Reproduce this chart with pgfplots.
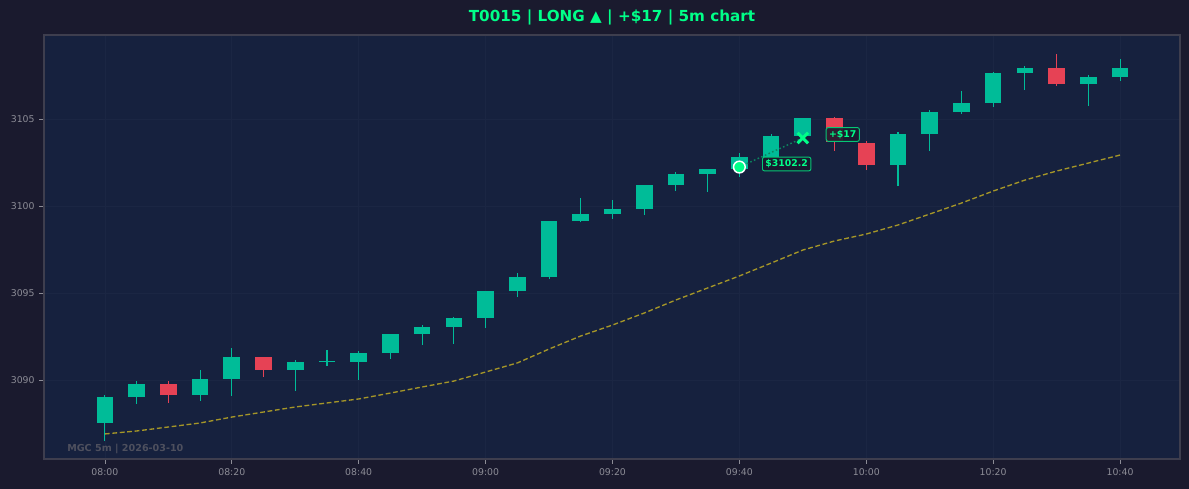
\documentclass[border=0pt]{standalone}
\usepackage{fontspec}
\setmainfont{DejaVu Sans}
\usepackage{pgfplots}
\pgfplotsset{compat=1.18}
\usepackage{pgfplotstable}

\definecolor{figbg}{RGB}{26,26,46}
\definecolor{axbg}{RGB}{22,33,62}
\definecolor{spine}{RGB}{62,62,78}
\definecolor{tickc}{RGB}{140,140,150}
\definecolor{gridc}{RGB}{27,38,67}
\definecolor{upc}{RGB}{0,188,152}
\definecolor{dnc}{RGB}{230,66,85}
\definecolor{entc}{RGB}{0,255,136}
\definecolor{mac}{RGB}{165,150,40}
\definecolor{wmc}{RGB}{78,80,94}

% i open high low close
\pgfplotstableread{
i o h l c
0 3087.53 3089.14 3086.51 3089.02
1 3089.02 3089.94 3088.64 3089.77
3 3089.14 3090.57 3088.81 3090.06
4 3090.06 3091.84 3089.10 3091.32
6 3090.59 3091.15 3089.39 3091.03
7 3091.03 3091.72 3090.82 3091.09
8 3091.05 3091.67 3090.00 3091.55
9 3091.55 3092.64 3091.21 3092.64
10 3092.64 3093.16 3092.01 3093.05
11 3093.05 3093.62 3092.07 3093.56
12 3093.56 3095.11 3092.99 3095.11
13 3095.11 3096.15 3094.77 3095.92
14 3095.92 3099.14 3095.80 3099.14
15 3099.14 3100.46 3099.08 3099.54
16 3099.54 3100.34 3099.25 3099.83
17 3099.83 3101.21 3099.48 3101.21
18 3101.21 3101.95 3100.88 3101.84
19 3101.84 3102.13 3100.82 3102.13
20 3102.13 3103.05 3101.68 3102.82
21 3102.82 3104.14 3102.80 3104.02
22 3104.02 3105.06 3103.90 3105.06
25 3102.36 3104.25 3101.15 3104.14
26 3104.14 3105.52 3103.16 3105.40
27 3105.40 3106.61 3105.29 3105.92
28 3105.92 3107.70 3105.69 3107.64
29 3107.64 3108.05 3106.67 3107.93
31 3107.01 3107.53 3105.75 3107.41
32 3107.41 3108.45 3107.18 3107.93
}\upcandles

\pgfplotstableread{
i o h l c
2 3089.77 3089.94 3088.70 3089.14
5 3091.32 3091.32 3090.19 3090.59
23 3105.06 3105.11 3103.18 3103.70
24 3103.62 3103.74 3102.07 3102.36
30 3107.93 3108.74 3106.90 3107.01
}\downcandles

\pgfplotstableread{
i v
0 3086.90
1 3087.07
2 3087.30
3 3087.53
4 3087.87
5 3088.16
6 3088.45
7 3088.68
8 3088.91
9 3089.25
10 3089.60
11 3089.94
12 3090.46
13 3090.98
14 3091.78
15 3092.53
16 3093.16
17 3093.85
18 3094.60
19 3095.29
20 3095.98
21 3096.72
22 3097.47
23 3097.99
24 3098.39
25 3098.91
26 3099.54
27 3100.17
28 3100.86
29 3101.49
30 3102.01
31 3102.47
32 3102.93
}\matable

\begin{document}
\begin{tikzpicture}
\fill[figbg] (0,0) rectangle (891.75pt,366.75pt);
\useasboundingbox (0,0) rectangle (891.75pt,366.75pt);
\begin{axis}[
  at={(33pt,22.5pt)}, anchor=south west,
  scale only axis, width=852pt, height=318pt,
  xmin=-1.92, xmax=33.89, ymin=3085.46, ymax=3109.83,
  axis background/.style={fill=axbg},
  axis line style={draw=spine, line width=0.8pt},
  xtick={0,4,...,32},
  xticklabels={08:00,08:20,08:40,09:00,09:20,09:40,10:00,10:20,10:40},
  ytick={3090,3095,3100,3105},
  tick align=outside, tick pos=left, major tick length=3.5pt,
  tick style={draw=tickc, line width=0.6pt},
  ticklabel style={font=\fontsize{7}{8}\selectfont, text=tickc},
  /pgf/number format/assume math mode=true,
  /pgf/number format/set thousands separator={},
  grid=major, grid style={draw=gridc, line width=0.5pt},
]
% moving average
\addplot[mac, line width=1pt, dash pattern=on 3.6pt off 2pt] table[x=i, y=v] {\matable};
% wicks
\addplot[draw=none, forget plot, error bars/.cd, y dir=plus, y explicit, error mark=none,
  error bar style={draw=upc, line width=0.8pt}]
  table[x=i, y=l, y error plus expr=\thisrow{h}-\thisrow{l}] {\upcandles};
\addplot[draw=none, forget plot, error bars/.cd, y dir=plus, y explicit, error mark=none,
  error bar style={draw=dnc, line width=0.8pt}]
  table[x=i, y=l, y error plus expr=\thisrow{h}-\thisrow{l}] {\downcandles};
% bodies
\addplot[draw=none, forget plot, error bars/.cd, y dir=plus, y explicit, error mark=none,
  error bar style={draw=upc, line width=12.5pt}]
  table[x=i, y=o, y error plus expr=\thisrow{c}-\thisrow{o}] {\upcandles};
\addplot[draw=none, forget plot, error bars/.cd, y dir=plus, y explicit, error mark=none,
  error bar style={draw=dnc, line width=12.5pt}]
  table[x=i, y=c, y error plus expr=\thisrow{o}-\thisrow{c}] {\downcandles};
% trade path
\addplot[draw=entc!45!axbg, line width=1.1pt, dash pattern=on 1.2pt off 1.8pt] coordinates {(20,3102.24) (22,3103.91)};
\addplot[only marks, mark=x, mark size=5.6pt, mark options={draw=entc, line width=2.3pt}] coordinates {(22,3103.91)};
\addplot[only marks, mark=*, mark size=4.4pt, mark options={fill=entc, draw=white, line width=1.1pt}] coordinates {(20,3102.24)};
\end{axis}
% annotation labels
\begin{scope}[x=1pt,y=1pt]
\node[anchor=west, draw=entc!75!axbg, fill=figbg, fill opacity=0.9, text opacity=1, rounded corners=1.5pt,
  line width=0.7pt, inner xsep=2.2pt, inner ysep=2pt, text=entc, font=\fontsize{7}{8}\selectfont\bfseries]
  at (571.5pt,243.75pt) {\$3102.2};
\node[anchor=west, draw=entc!75!axbg, fill=figbg, fill opacity=0.9, text opacity=1, rounded corners=1.5pt,
  line width=0.7pt, inner xsep=2.2pt, inner ysep=2pt, text=entc, font=\fontsize{7}{8}\selectfont\bfseries]
  at (619.3pt,265.9pt) {+\$17};
\node[anchor=west, inner sep=0pt, text=wmc, font=\fontsize{7.2}{8}\selectfont\bfseries]
  at (50.25pt,30pt) {MGC 5m | 2026-03-10};
\node[anchor=center, text=entc, font=\fontsize{11.4}{13}\selectfont\bfseries]
  at (459pt,354pt) {T0015 | LONG ▲ | +\$17 | 5m chart};
\end{scope}
\end{tikzpicture}
\end{document}
